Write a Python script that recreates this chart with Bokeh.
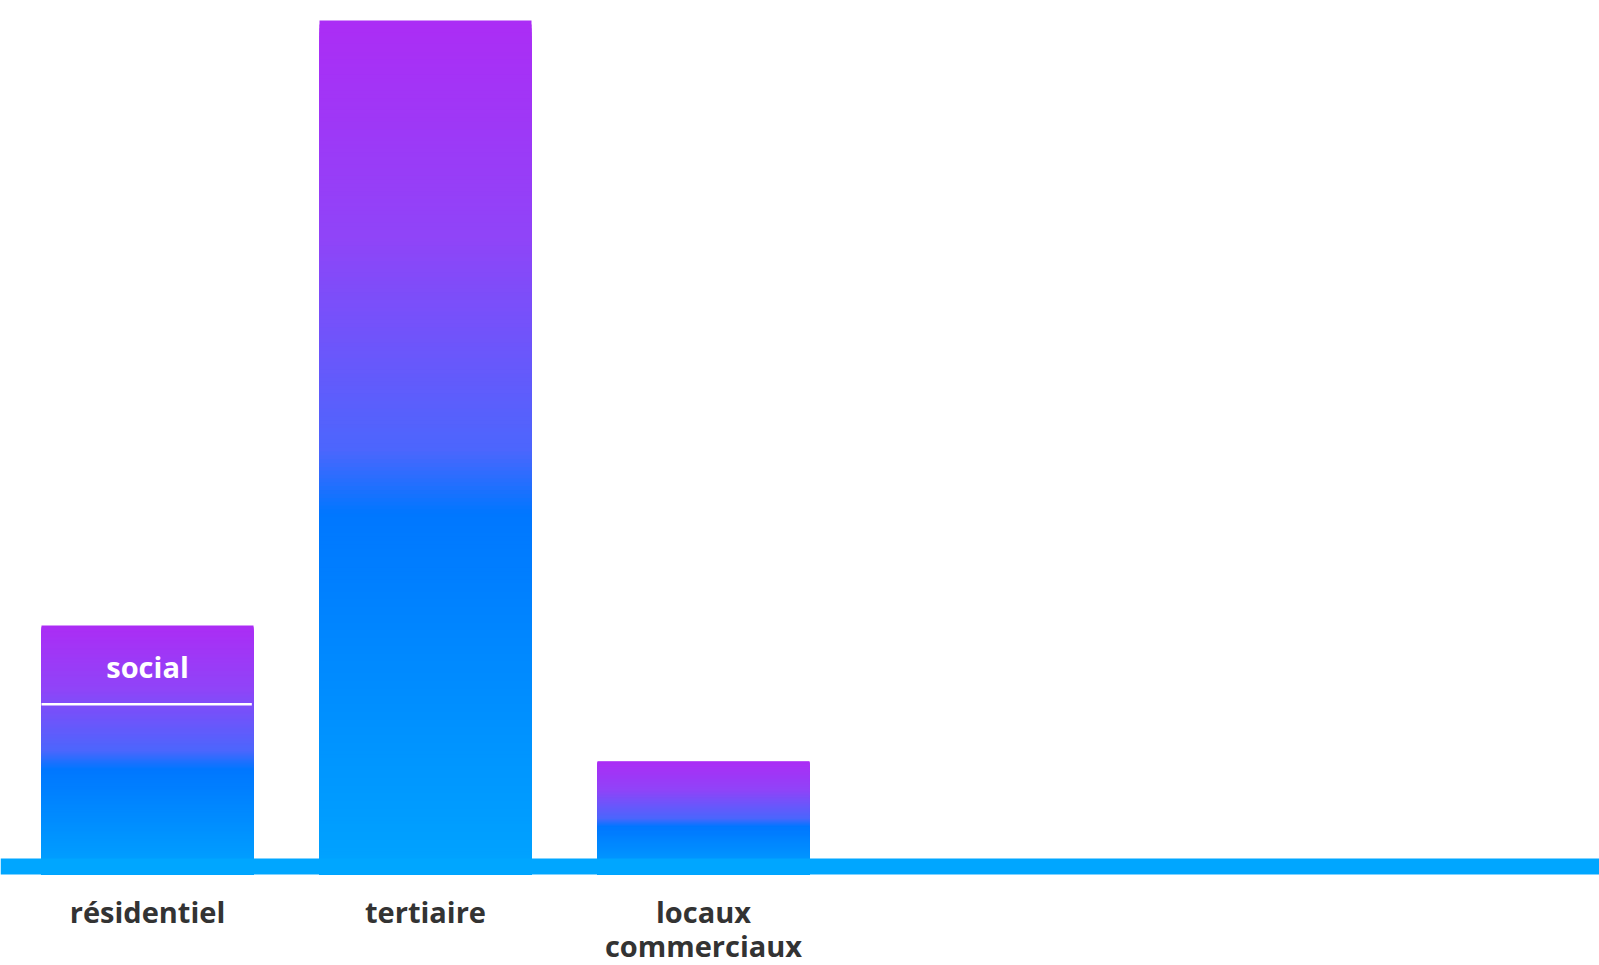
from bokeh.plotting import figure
from bokeh.models import ColumnDataSource, Range1d
from bokeh.core.properties import value
from bokeh.embed import file_html
from bokeh.resources import INLINE

# Surface par type de bâtiment (indice, tertiaire = 100)
categories = ["résidentiel", "tertiaire", "locaux commerciaux"]
tick_labels = ["résidentiel", "tertiaire", "locaux\ncommerciaux"]
totals = [27.8, 100.0, 11.6]
social_share = 9.4          # part "social" du résidentiel, en haut de la barre
social_label = "social"

W, H = 1599, 965
px_per_unit = 8.38           # vertical scale
base_px = 858                # baseline position from the top of the page
band_px = 16                 # thickness of the baseline band
slot_px, bar_px, first_center_px = 278, 212, 147

x_start = -first_center_px / slot_px
y_end = base_px / px_per_unit
y_start = -(H - base_px) / px_per_unit
band_bottom = -band_px / px_per_unit
bar_w = bar_px / slot_px

p = figure(width=W, height=H, output_backend="svg", toolbar_location=None,
           x_range=Range1d(x_start, x_start + W / slot_px),
           y_range=Range1d(y_start, y_end),
           min_border=0, outline_line_color=None, background_fill_color="white")
p.axis.visible = False
p.grid.visible = False

# vertical gradient: purple at the top, vivid blue just past the middle, light blue at the foot
stops = [(0.0, (0xAB, 0x2D, 0xF5)), (0.25, (0x90, 0x44, 0xF8)), (0.5, (0x4C, 0x66, 0xFD)),
         (0.575, (0x00, 0x77, 0xFF)), (1.0, (0x00, 0xA4, 0xFF))]


def grad(t):
    for (t0, c0), (t1, c1) in zip(stops[:-1], stops[1:]):
        if t <= t1:
            f = (t - t0) / (t1 - t0) if t1 > t0 else 0
            return "#%02x%02x%02x" % tuple(int(round(a + (b - a) * f)) for a, b in zip(c0, c1))
    return "#%02x%02x%02x" % stops[-1][1]


# each bar is painted as nested rectangles sharing the same foot, tallest first,
# so every step of the gradient covers the one above it without seams
N = 220
left, right, bottom, top, color = [], [], [], [], []
for i, v in enumerate(totals):
    span = v - band_bottom
    for k in range(N, 0, -1):
        left.append(i - bar_w / 2)
        right.append(i + bar_w / 2)
        bottom.append(band_bottom)
        top.append(band_bottom + span * k / N)
        color.append(grad(1 - k / N))
p.quad(left="left", right="right", bottom="bottom", top="top", fill_color="color",
       line_color=None, source=ColumnDataSource(dict(left=left, right=right, bottom=bottom,
                                                      top=top, color=color)))

# split of the residential bar
r_idx = 0
div_y = totals[r_idx] - social_share
p.segment(x0=[r_idx - bar_w / 2], x1=[r_idx + bar_w / 2 - 0.006], y0=[div_y], y1=[div_y],
          line_color="white", line_width=2.5)
p.text(x=[r_idx], y=[div_y + social_share / 2 - 0.2], text=[social_label],
       text_color="white", text_font=value("Open Sans"), text_font_style="bold",
       text_font_size="29px", text_align="center", text_baseline="middle")

# baseline band across the whole width
p.quad(left=[x_start], right=[x_start + W / slot_px], bottom=[band_bottom], top=[0],
       fill_color="#00A6FF", line_color=None)

# category labels under the baseline
label_top = -(891 - base_px) / px_per_unit
p.text(x=list(range(len(categories))), y=[label_top] * len(categories), text=tick_labels,
       text_color="#333333", text_font=value("Open Sans"), text_font_style="bold",
       text_font_size="29px", text_align="center", text_baseline="top",
       text_line_height=0.88)

open("out.html", "w").write(file_html(p, INLINE))
